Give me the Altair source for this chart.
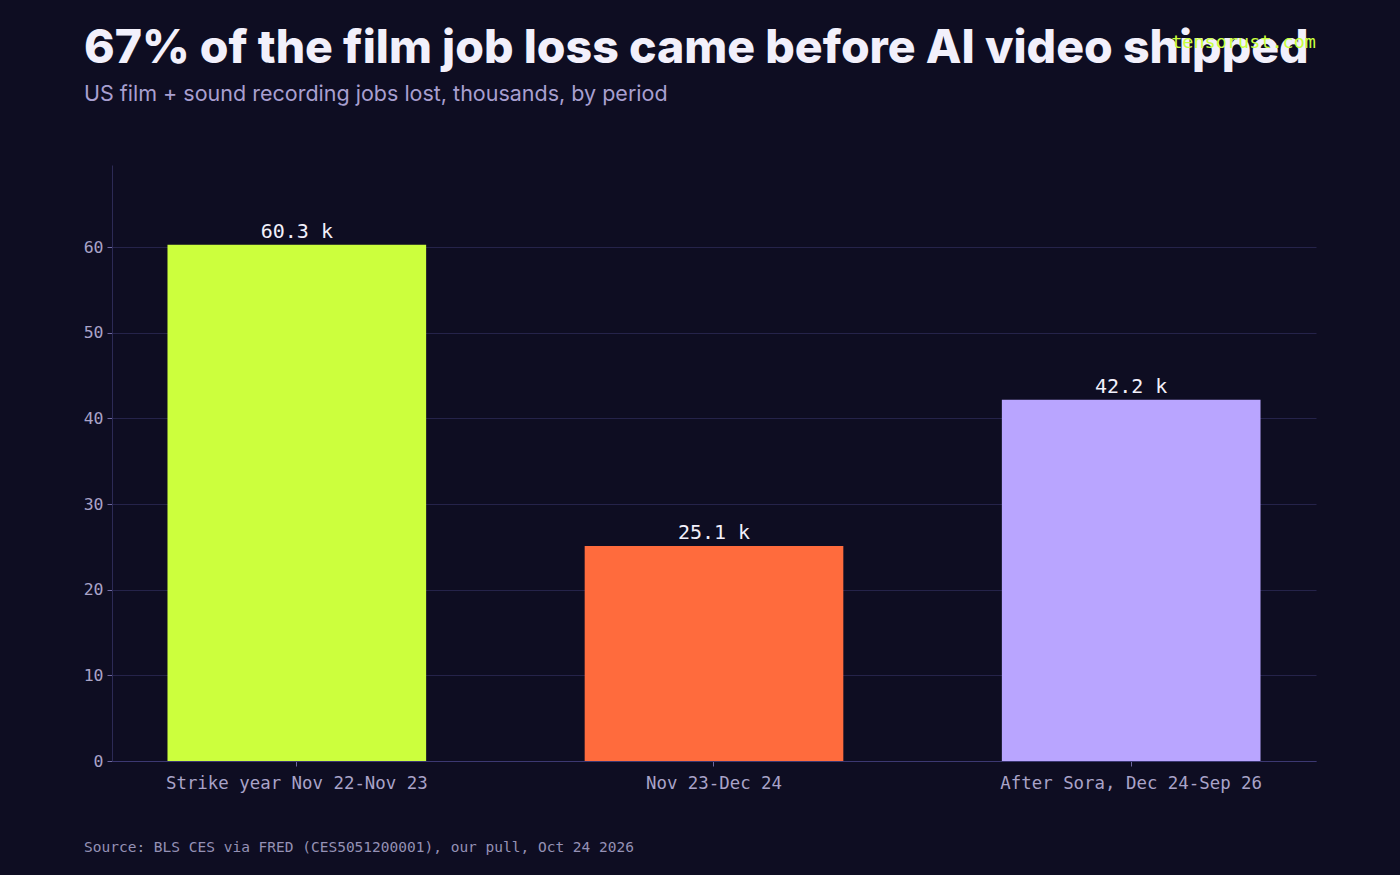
import altair as alt
import pandas as pd

periods = ["Strike year Nov 22-Nov 23", "Nov 23-Dec 24", "After Sora, Dec 24-Sep 26"]
jobs_lost = [60.3, 25.1, 42.2]
labels = ["60.3 k", "25.1 k", "42.2 k"]
colors = ["#ccff3d", "#ff6b3d", "#b9a5ff"]

title_text = "67% of the film job loss came before AI video shipped"
subtitle_text = "US film + sound recording jobs lost, thousands, by period"
source_text = "Source: BLS CES via FRED (CES5051200001), our pull, Oct 24 2026"
brand_text = "tensorust.com"

df = pd.DataFrame({"period": periods, "jobs": jobs_lost, "label": labels})

BG = "#0e0d22"
W, H = 1204, 596

x = alt.X("period:N", sort=periods, title=None,
          scale=alt.Scale(paddingInner=0.38, paddingOuter=0.133),
          axis=alt.Axis(labelAngle=0, labelFont="DejaVu Sans Mono", labelFontSize=17.4,
                        labelLimit=0, labelColor="#a9a3c8", labelPadding=8,
                        tickColor="#6e68a0", tickSize=5, domainColor="#3c3872", grid=False))
y = alt.Y("jobs:Q", title=None,
          scale=alt.Scale(domain=[0, 69.6], nice=False),
          axis=alt.Axis(values=[0, 10, 20, 30, 40, 50, 60], labelFont="DejaVu Sans Mono",
                        labelFontSize=16.5, labelColor="#a9a3c8", labelPadding=4,
                        tickColor="#6e68a0", tickSize=5, domainColor="#2c2a55",
                        gridColor="#25234a", gridWidth=1))

bars = alt.Chart(df).mark_bar().encode(
    x=x, y=y,
    color=alt.Color("period:N", sort=periods,
                    scale=alt.Scale(domain=periods, range=colors), legend=None),
)
text = alt.Chart(df).mark_text(dy=-13, font="DejaVu Sans Mono", fontSize=20,
                               color="#f2f0fb").encode(
    x=alt.X("period:N", sort=periods), y="jobs:Q", text="label:N")

one = alt.Chart(df).transform_filter(alt.datum.period == periods[0])

title = one.mark_text(
    align="left", baseline="alphabetic", font="Inter", fontSize=46.4, fontWeight=800,
    color="#f2f0fb", text=title_text,
).encode(x=alt.value(-28), y=alt.value(-102))

subtitle = one.mark_text(
    align="left", baseline="alphabetic", font="Inter", fontSize=21.5, fontWeight=400,
    color="#a89fd0", text=subtitle_text,
).encode(x=alt.value(-28), y=alt.value(-64))

source = one.mark_text(
    align="left", baseline="middle", font="DejaVu Sans Mono", fontSize=14.5,
    color="#9591b5", text=source_text,
).encode(x=alt.value(-28), y=alt.value(683))

brand = one.mark_text(
    align="right", baseline="middle", font="DejaVu Sans Mono", fontSize=18.5,
    color="#c8ff3d", text=brand_text,
).encode(x=alt.value(W), y=alt.value(-123))

chart = alt.layer(bars, text, title, subtitle, source, brand).properties(
    width=W, height=H, background=BG,
    autosize=alt.AutoSizeParams(type="none"),
    padding={"left": 112, "top": 165, "right": 84, "bottom": 114},
).configure_view(stroke=None)

chart.save("out.html", embed_options={"renderer": "svg", "actions": False})
